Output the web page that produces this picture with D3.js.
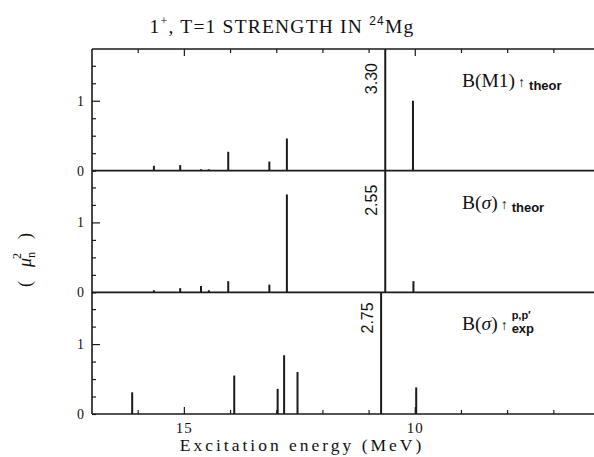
<!DOCTYPE html>
<html lang="en">
<head>
<meta charset="UTF-8">
<title>1+, T=1 strength in 24Mg</title>
<script src="https://d3js.org/d3.v7.min.js"></script>
<style>
    body { margin: 0; background: #fff; }
    svg { display: block; }
    .serif { font-family: "Liberation Serif", "DejaVu Serif", serif; fill: #111; }
    .sans { font-family: "Liberation Sans", Arial, sans-serif; fill: #111; }
</style>
</head>
<body>
<svg id="chart"></svg>
<script>
    // excitation energies (MeV) and strengths (mu_n^2) for the three panels
    const m1Energy = [15.66, 15.09, 14.64, 14.47, 14.05, 13.16, 12.78, 10.65, 10.05];
    const m1Value  = [0.07, 0.08, 0.02, 0.02, 0.27, 0.13, 0.46, 3.30, 1.00];

    const sigTheorEnergy = [15.66, 15.09, 14.64, 14.47, 14.05, 13.16, 12.78, 10.65, 10.04];
    const sigTheorValue  = [0.03, 0.06, 0.09, 0.03, 0.16, 0.11, 1.40, 2.55, 0.16];

    const sigExpEnergy = [16.13, 13.92, 12.98, 12.84, 12.55, 10.74, 9.98];
    const sigExpValue  = [0.31, 0.55, 0.36, 0.84, 0.60, 2.75, 0.38];

    const xTickValues = [15, 10];
    const yTickValues = [0, 1];

    const width = 594, height = 457;
    const frameLeft = 92, frameTop = 49, frameBottom = 414, frameRight = 600;
    const panelH = (frameBottom - frameTop) / 3;
    const yMax = 1.74;

    const svg = d3.select("#chart").attr("width", width).attr("height", height);

    const x = d3.scaleLinear().domain([17, 6]).range([frameLeft, frameRight]);

    const panels = [
        { energy: m1Energy, value: m1Value, label: "M1", sup: null, sub: "theor", tallOff: 14 },
        { energy: sigTheorEnergy, value: sigTheorValue, label: "σ", sup: null, sub: "theor", tallOff: 14 },
        { energy: sigExpEnergy, value: sigExpValue, label: "σ", sup: "p,p′", sub: "exp", tallOff: 10 }
    ];

    const ink = "#1a1a1a";

    panels.forEach((p, i) => {
        const y0 = frameTop + panelH * i;
        const y = d3.scaleLinear().domain([0, yMax]).range([y0 + panelH, y0]);
        const g = svg.append("g");

        // baseline (panel separator)
        g.append("line")
            .attr("x1", frameLeft).attr("x2", frameRight)
            .attr("y1", y(0)).attr("y2", y(0))
            .attr("stroke", ink).attr("stroke-width", 1.6);

        // left axis with inward ticks
        const yAxis = d3.axisRight(y)
            .tickValues(d3.range(0, 1.51, 0.25))
            .tickSize(4)
            .tickFormat("");
        g.append("g").attr("transform", `translate(${frameLeft},0)`).call(yAxis)
            .call(s => s.select(".domain").remove())
            .selectAll("line").attr("stroke", ink).attr("stroke-width", 1.2)
            .attr("x2", d => (d === 1 ? 8 : 4));

        g.selectAll(".ylab").data(yTickValues).join("text")
            .attr("class", "serif")
            .attr("x", frameLeft - 8).attr("y", d => y(d) + 5)
            .attr("text-anchor", "end")
            .attr("font-size", 14)
            .text(d => d);

        // bars
        const data = p.energy.map((e, k) => ({ e, v: p.value[k] }));
        g.selectAll(".bar").data(data).join("line")
            .attr("x1", d => x(d.e)).attr("x2", d => x(d.e))
            .attr("y1", y(0))
            .attr("y2", d => y(Math.min(d.v, yMax)))
            .attr("stroke", ink).attr("stroke-width", 2);

        // value labels for off-scale bars
        data.filter(d => d.v > yMax).forEach(d => {
            g.append("text")
                .attr("class", "sans")
                .attr("font-size", 16)
                .attr("text-anchor", "end")
                .attr("transform", `translate(${x(d.e) - 8},${y0 + p.tallOff}) rotate(-90)`)
                .text(d.v.toFixed(2));
        });

        // panel label
        const baseY = y0 + 38;
        const t = g.append("text").attr("class", "serif")
            .attr("x", 462).attr("y", baseY).attr("font-size", 19.5);
        t.append("tspan").text("B(");
        t.append("tspan").attr("font-style", p.label === "σ" ? "italic" : "normal").text(p.label);
        t.append("tspan").text(")");
        const endX = 462 + t.node().getComputedTextLength();
        g.append("text").attr("class", "sans")
            .attr("x", endX + 3).attr("y", baseY).attr("font-size", 14).attr("font-weight", "bold")
            .text("↑");
        const subX = endX + 14;
        g.append("text").attr("class", "sans").attr("font-weight", "bold")
            .attr("x", subX).attr("y", baseY + 3).attr("font-size", 13)
            .text(p.sub);
        if (p.sup) {
            g.append("text").attr("class", "sans").attr("font-weight", "bold")
                .attr("x", subX).attr("y", baseY - 11).attr("font-size", 11)
                .text(p.sup);
        }
    });

    // top frame line and left frame line
    svg.append("line").attr("x1", frameLeft).attr("x2", frameRight).attr("y1", frameTop).attr("y2", frameTop)
        .attr("stroke", ink).attr("stroke-width", 1.6);
    svg.append("line").attr("x1", frameLeft).attr("x2", frameLeft).attr("y1", frameTop).attr("y2", frameBottom)
        .attr("stroke", ink).attr("stroke-width", 1.6);

    // x ticks, every 1 MeV, on top and bottom of the frame
    const xt = d3.range(7, 17, 1);
    svg.append("g").selectAll("line").data(xt).join("line")
        .attr("x1", d => x(d)).attr("x2", d => x(d))
        .attr("y1", frameTop).attr("y2", d => frameTop + (xTickValues.includes(d) ? 7 : 4))
        .attr("stroke", ink).attr("stroke-width", 1.2);
    svg.append("g").selectAll("line").data(xt).join("line")
        .attr("x1", d => x(d)).attr("x2", d => x(d))
        .attr("y1", frameBottom).attr("y2", d => frameBottom - (xTickValues.includes(d) ? 7 : 4))
        .attr("stroke", ink).attr("stroke-width", 1.2);

    svg.selectAll(".xlab").data(xTickValues).join("text")
        .attr("class", "serif")
        .attr("x", d => x(d)).attr("y", 433)
        .attr("text-anchor", "middle").attr("font-size", 15).attr("letter-spacing", 1)
        .text(d => d);

    // axis titles
    svg.append("text").attr("class", "serif")
        .attr("x", 302).attr("y", 451).attr("text-anchor", "middle")
        .attr("font-size", 17.5).attr("letter-spacing", 3)
        .text("Excitation energy  (MeV)");

    const yl = svg.append("text").attr("class", "serif")
        .attr("transform", "translate(31,260) rotate(-90)")
        .attr("text-anchor", "middle").attr("font-size", 18);
    yl.append("tspan").text("(");
    yl.append("tspan").attr("dx", 14).attr("font-style", "italic").text("μ");
    yl.append("tspan").attr("font-size", 12).attr("dy", 4).text("n");
    yl.append("tspan").attr("font-size", 12).attr("dx", -7).attr("dy", -14).text("2");
    yl.append("tspan").attr("dx", 14).attr("dy", 10).text(")");

    // title
    const tt = svg.append("text").attr("class", "serif")
        .attr("x", 282).attr("y", 33).attr("text-anchor", "middle")
        .attr("font-size", 19.5).attr("letter-spacing", 1.2);
    tt.append("tspan").text("1");
    tt.append("tspan").attr("font-size", 12).attr("dy", -8).text("+");
    tt.append("tspan").attr("dy", 8).text(", T=1  STRENGTH  IN  ");
    tt.append("tspan").attr("class", "sans").attr("font-size", 12).attr("dy", -8).text("24");
    tt.append("tspan").attr("dy", 8).text("Mg");
</script>
</body>
</html>
